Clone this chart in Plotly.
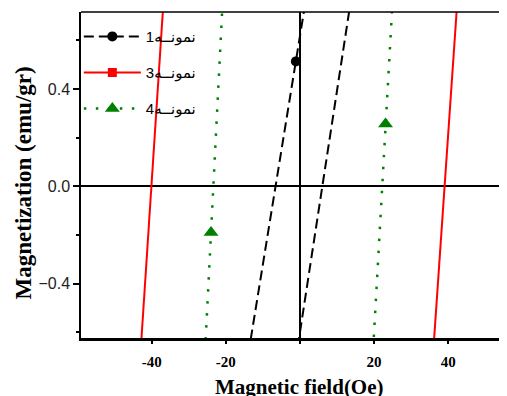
import plotly.graph_objects as go

# ---------------- data ----------------
# Sample 1 (black dashed, circles)
s1_up_H = [-13.3, -1.1, 1.1]
s1_up_M = [-0.63, 0.513, 0.72]
s1_dn_H = [13.3, 6.0, -0.3]
s1_dn_M = [0.72, 0.0, -0.63]
s1_mk_H = [-1.1]
s1_mk_M = [0.513]

# Sample 3 (red solid, squares)
s3_up_H = [-42.8, -40.1, -37.0]
s3_up_M = [-0.63, 0.0, 0.72]
s3_dn_H = [42.3, 39.1, 36.2]
s3_dn_M = [0.72, 0.0, -0.63]

# Sample 4 (green dotted, triangles)
s4_up_H = [-25.45, -24.0, -23.4, -21.0]
s4_up_M = [-0.63, -0.19, 0.0, 0.72]
s4_dn_H = [24.85, 23.1, 22.2, 19.9]
s4_dn_M = [0.72, 0.256, 0.0, -0.63]
s4_mk_H = [-24.0, 23.1]
s4_mk_M = [-0.19, 0.256]

names = ["نمونــه1", "نمونــه3", "نمونــه4"]

x_tickvals = [-40, -20, 0, 20, 40]
x_ticktext = ["-40", "-20", "", "20", "40"]
x_range = [-59.1, 58.05]
y_range = [-0.6235, 0.716]

x_title = "Magnetic field(Oe)"
y_title = "Magnetization (emu/gr)"

BLACK = "#000000"
RED = "#ff0000"
GREEN = "#008000"

styles = [
    dict(line=dict(color=BLACK, width=2, dash="10px,5px"),
         marker=dict(symbol="circle", size=10, color=BLACK)),
    dict(line=dict(color=RED, width=2),
         marker=dict(symbol="square", size=9, color=RED)),
    dict(line=dict(color=GREEN, width=2.5, dash="2.5px,9.5px"),
         marker=dict(symbol="triangle-up", size=13, color=GREEN)),
]

fig = go.Figure()

branches = [
    (s1_up_H + [None] + s1_dn_H, s1_up_M + [None] + s1_dn_M),
    (s3_up_H + [None] + s3_dn_H, s3_up_M + [None] + s3_dn_M),
    (s4_up_H + [None] + s4_dn_H, s4_up_M + [None] + s4_dn_M),
]
markers = [(s1_mk_H, s1_mk_M), ([], []), (s4_mk_H, s4_mk_M)]

for i, ((hx, my), (mx, mm), st, nm) in enumerate(zip(branches, markers, styles, names)):
    g = "s%d" % i
    fig.add_trace(go.Scatter(x=hx, y=my, mode="lines", line=st["line"],
                             showlegend=False, legendgroup=g, hoverinfo="skip"))
    if mx:
        fig.add_trace(go.Scatter(x=mx, y=mm, mode="markers", marker=st["marker"],
                                 showlegend=False, legendgroup=g))
    fig.add_trace(go.Scatter(x=[None], y=[None], mode="lines+markers",
                             line=st["line"], marker=st["marker"], name=nm,
                             legendgroup=g, showlegend=True))

fig.update_layout(
    width=507, height=396,
    margin=dict(l=73, r=0, t=4, b=66),
    plot_bgcolor="white", paper_bgcolor="white",
    legend=dict(x=-0.005, y=0.975, xanchor="left", yanchor="top",
                bgcolor="rgba(0,0,0,0)", traceorder="grouped", tracegroupgap=13.5,
                itemwidth=57,
                font=dict(family="Liberation Sans, DejaVu Sans", size=15, color="black")),
    xaxis=dict(range=x_range, tickvals=x_tickvals, ticktext=x_ticktext,
               automargin=False,
               ticks="outside", ticklen=3, tickwidth=1.5, tickcolor=BLACK,
               showline=True, linewidth=2.5, linecolor=BLACK,
               showgrid=False, zeroline=True, zerolinecolor=BLACK, zerolinewidth=2,
               ticklabelstandoff=5,
               tickfont=dict(family="Liberation Serif", size=15, color=BLACK, weight="bold")),
    yaxis=dict(range=y_range, tick0=0, dtick=0.4, tickformat=".1f",
               automargin=False,
               ticks="outside", ticklen=6, tickwidth=1.5, tickcolor=BLACK,
               minor=dict(dtick=0.2, ticks="outside", ticklen=3, tickwidth=1.5, tickcolor=BLACK),
               showline=True, linewidth=1.5, linecolor=BLACK,
               showgrid=False, zeroline=True, zerolinecolor=BLACK, zerolinewidth=1.5,
               tickfont=dict(family="Liberation Sans", size=16, color="#222222")),
    shapes=[dict(type="line", xref="paper", yref="paper", x0=0, x1=1, y0=1, y1=1,
                 line=dict(color=BLACK, width=1.5))],
    annotations=[
        dict(text=x_title, xref="paper", yref="paper", x=0.5046, y=0,
             xanchor="center", yanchor="middle", yshift=-49, showarrow=False,
             font=dict(family="Liberation Serif", size=21, color=BLACK, weight="bold")),
        dict(text=y_title, xref="paper", yref="paper", x=0, y=0.474,
             xanchor="center", yanchor="middle", xshift=-58, textangle=-90, showarrow=False,
             font=dict(family="Liberation Serif", size=23, color=BLACK, weight="bold")),
    ],
)

fig.write_html("out.html")
